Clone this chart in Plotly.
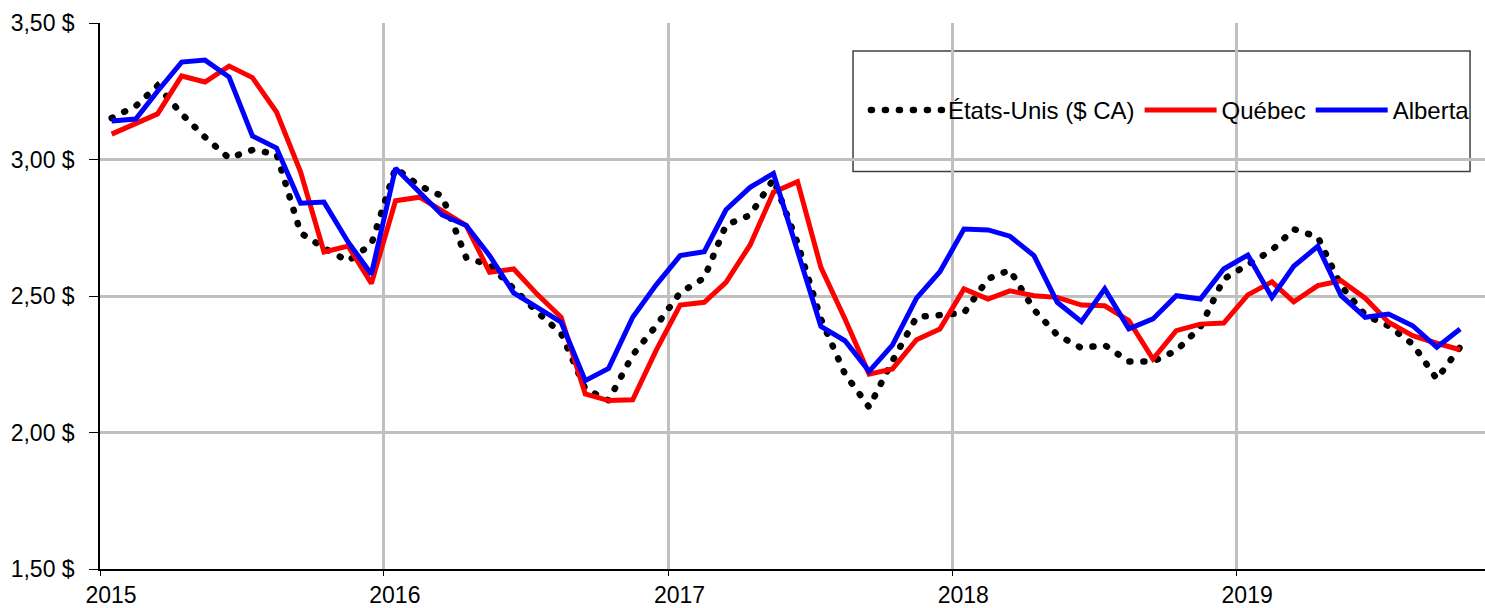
import plotly.graph_objects as go

# Monthly data, Jan 2015 - Oct 2019 (mid-month points)
months = [f"{2015 + i // 12}-{i % 12 + 1:02d}-16" for i in range(58)]

etats_unis = [3.152, 3.196, 3.270, 3.167, 3.082, 3.005, 3.035, 3.020, 2.731, 2.676, 2.628, 2.690,
              2.969, 2.903, 2.866, 2.640, 2.614, 2.526, 2.442, 2.363, 2.160, 2.118, 2.284, 2.390,
              2.512, 2.566, 2.760, 2.796, 2.928, 2.694, 2.416, 2.214, 2.093, 2.262, 2.423, 2.430,
              2.438, 2.563, 2.595, 2.450, 2.357, 2.310, 2.320, 2.260, 2.260, 2.300, 2.386, 2.562,
              2.617, 2.668, 2.745, 2.716, 2.537, 2.430, 2.390, 2.324, 2.196, 2.313]

quebec = [3.093, 3.134, 3.167, 3.306, 3.284, 3.342, 3.300, 3.174, 2.954, 2.661, 2.683, 2.546,
          2.849, 2.862, 2.810, 2.758, 2.587, 2.599, 2.507, 2.422, 2.141, 2.117, 2.120, 2.300,
          2.467, 2.477, 2.550, 2.687, 2.880, 2.919, 2.605, 2.416, 2.214, 2.233, 2.340, 2.379,
          2.526, 2.489, 2.519, 2.501, 2.495, 2.467, 2.464, 2.410, 2.269, 2.373, 2.397, 2.401,
          2.504, 2.552, 2.479, 2.538, 2.556, 2.492, 2.404, 2.355, 2.327, 2.303]

alberta = [3.141, 3.148, 3.250, 3.357, 3.364, 3.302, 3.086, 3.042, 2.840, 2.844, 2.698, 2.580,
           2.968, 2.880, 2.797, 2.758, 2.648, 2.511, 2.460, 2.404, 2.190, 2.235, 2.422, 2.540,
           2.648, 2.662, 2.816, 2.898, 2.949, 2.660, 2.389, 2.336, 2.224, 2.320, 2.492, 2.589,
           2.745, 2.742, 2.719, 2.648, 2.477, 2.406, 2.526, 2.380, 2.416, 2.501, 2.489, 2.599,
           2.650, 2.495, 2.609, 2.682, 2.501, 2.422, 2.434, 2.391, 2.312, 2.379]

year_ticks = ["2015-01-01", "2016-01-01", "2017-01-01", "2018-01-01", "2019-01-01"]
year_labels = ["2015", "2016", "2017", "2018", "2019"]

FONT = "Liberation Sans, Arial, sans-serif"
GRID = "#c0c0c0"

fig = go.Figure()
fig.add_trace(go.Scatter(x=months, y=etats_unis, mode="lines", name="États-Unis ($ CA)",
                         line=dict(color="black", width=6.5, dash="1px,13px")))
fig.add_trace(go.Scatter(x=months, y=quebec, mode="lines", name="Québec",
                         line=dict(color="#ff0000", width=5)))
fig.add_trace(go.Scatter(x=months, y=alberta, mode="lines", name="Alberta",
                         line=dict(color="#0000ff", width=5)))

fig.update_layout(
    width=1485, height=608,
    margin=dict(l=100, r=0, t=23, b=39, pad=0, autoexpand=False),
    paper_bgcolor="white", plot_bgcolor="white",
    separators=", ",
    font=dict(family=FONT, size=23, color="black"),
    showlegend=True,
    legend=dict(orientation="h", x=0.553, y=0.84, xanchor="left", yanchor="middle",
                bgcolor="rgba(0,0,0,0)", borderwidth=0, itemwidth=72,
                font=dict(family=FONT, size=24, color="black"), tracegroupgap=0),
    shapes=[dict(type="rect", xref="paper", yref="paper", x0=0.5437, x1=0.9892,
                 y0=0.728, y1=0.9485, line=dict(color="#404040", width=1.5),
                 fillcolor="white", layer="between")],
)

fig.update_xaxes(
    type="date", range=["2015-01-01", "2019-11-17"],
    tickvals=year_ticks, ticktext=year_labels,
    showgrid=True, gridcolor=GRID, gridwidth=2.5,
    showline=True, linecolor="black", linewidth=1.5,
    ticks="outside", ticklen=5, tickcolor="black", tickwidth=1.2,
    ticklabelshift=11, ticklabelstandoff=0, automargin=False,
    zeroline=False, tickfont=dict(family=FONT, size=23),
)
fig.update_yaxes(
    range=[1.5, 3.5], dtick=0.5, tick0=1.5, tickformat=".2f", ticksuffix=" $",
    showgrid=True, gridcolor=GRID, gridwidth=2.5,
    showline=True, linecolor="black", linewidth=1.5,
    ticks="outside", ticklen=9, tickcolor="black", tickwidth=1.2,
    ticklabelstandoff=10, automargin=False,
    zeroline=False, tickfont=dict(family=FONT, size=23),
)

post = """
document.body.style.margin = '0';
document.body.style.padding = '0';
document.body.style.overflow = 'hidden';
function roundDots(){
  var gd = document.querySelectorAll('.js-plotly-plot')[0];
  var paths = gd.querySelectorAll('path.js-line');
  paths.forEach(function(p){
    if ((p.style.strokeDasharray || '').indexOf('13') >= 0) { p.style.strokeLinecap = 'round'; }
  });
}
roundDots();
var gdd = document.querySelectorAll('.js-plotly-plot')[0];
if (gdd && gdd.on) { gdd.on('plotly_afterplot', roundDots); }
"""

fig.write_html("out.html", post_script=post, config={"displayModeBar": False})
